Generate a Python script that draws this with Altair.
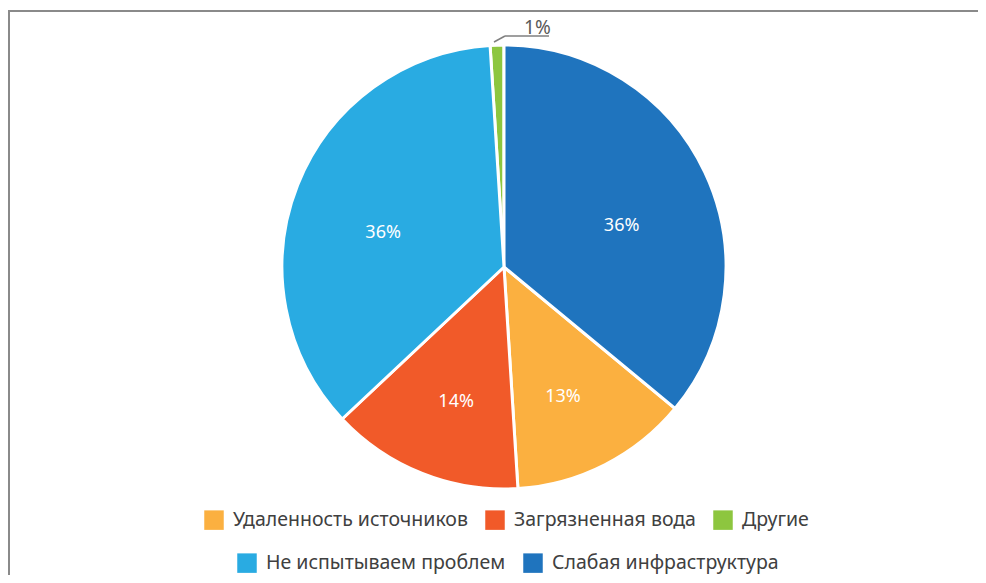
import math
import altair as alt
import pandas as pd

# Data (clockwise from 12 o'clock)
categories = ["Слабая инфраструктура", "Удаленность источников", "Загрязненная вода",
              "Не испытываем проблем", "Другие"]
values = [36, 13, 14, 36, 1]
labels = ["36%", "13%", "14%", "36%", "1%"]
colors = ["#1F74BE", "#FBB040", "#F15A29", "#29ABE2", "#8DC63F"]
legend_row1 = ["Удаленность источников", "Загрязненная вода", "Другие"]
legend_row2 = ["Не испытываем проблем", "Слабая инфраструктура"]

df = pd.DataFrame({"category": categories, "value": values, "label": labels,
                   "order": list(range(len(categories)))})
color_of = dict(zip(categories, colors))

CX, CY, R = 496, 259, 222
FONT = "Noto Sans"

base = alt.Chart(df).transform_window(
    end="sum(value)", sort=[alt.SortField("order")], frame=[None, 0]
).transform_calculate(
    start="datum.end - datum.value", mid="datum.end - datum.value / 2"
)

theta_scale = alt.Scale(domain=[0, 100], range=[0, 2 * math.pi])


def arc_layer(row, lx, ly):
    return base.transform_filter(
        alt.FieldOneOfPredicate(field="category", oneOf=row)
    ).mark_arc(radius=R, stroke="white", strokeWidth=3).encode(
        x=alt.value(CX), y=alt.value(CY),
        theta=alt.Theta("start:Q", scale=theta_scale),
        theta2="end:Q",
        color=alt.Color(
            "category:N",
            scale=alt.Scale(domain=row, range=[color_of[c] for c in row]),
            legend=alt.Legend(
                orient="none", legendX=lx, legendY=ly, direction="horizontal",
                title=None, symbolType="square", symbolSize=380,
                symbolStrokeWidth=0, labelFontSize=19.5, labelFont=FONT,
                labelColor="#404040", labelLimit=500, columnPadding=17,
                labelOffset=9,
            ),
        ),
    )


arcs1 = arc_layer(legend_row1, 196, 502)
arcs2 = arc_layer(legend_row2, 229, 545)

inner_text = base.transform_filter("datum.category != 'Другие'").mark_text(
    radius=130, fontSize=18, color="white", font=FONT, dy=14
).encode(
    x=alt.value(CX), y=alt.value(CY),
    theta=alt.Theta("mid:Q", scale=theta_scale),
    text="label:N",
)

outer_text = base.transform_filter("datum.category == 'Другие'").mark_text(
    radius=242, fontSize=19, color="#595959", font=FONT, dx=41, dy=3
).encode(
    x=alt.value(CX), y=alt.value(CY),
    theta=alt.Theta("mid:Q", scale=theta_scale),
    text="label:N",
)

one = alt.Chart(pd.DataFrame({"k": [0]}))
leader1 = one.mark_rule(color="#7f7f7f", strokeWidth=1.5).encode(
    x=alt.value(486), y=alt.value(34), x2=alt.value(497), y2=alt.value(28))
leader2 = one.mark_rule(color="#7f7f7f", strokeWidth=1.5).encode(
    x=alt.value(497), y=alt.value(28), x2=alt.value(541), y2=alt.value(28))
frame_top = one.mark_rule(color="#8a8a8a", strokeWidth=2).encode(
    x=alt.value(0), y=alt.value(3), x2=alt.value(970), y2=alt.value(3))
frame_left = one.mark_rule(color="#8a8a8a", strokeWidth=2).encode(
    x=alt.value(1), y=alt.value(3), x2=alt.value(1), y2=alt.value(567))

chart = alt.layer(
    frame_top, frame_left, arcs1, arcs2, inner_text, outer_text, leader1, leader2
).resolve_scale(color="independent").resolve_legend(color="independent").properties(
    width=970, height=567, autosize="none", padding=0, background="white"
).configure_view(stroke=None)

chart.save("out.html", embed_options={"renderer": "svg", "actions": False})
